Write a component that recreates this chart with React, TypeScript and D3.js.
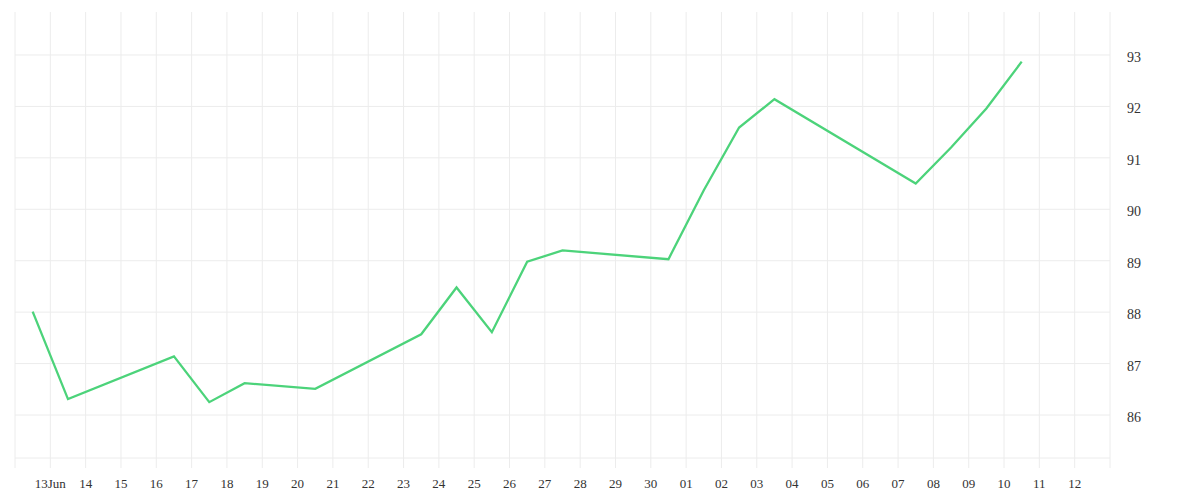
import React from 'react';
import * as d3 from 'd3';

// =============================================================================
// Data
// =============================================================================

// sample times (noon of each day) and values
const dates: string[] = [
  '2023-06-12T12:00Z', '2023-06-13T12:00Z', '2023-06-16T12:00Z', '2023-06-17T12:00Z',
  '2023-06-18T12:00Z', '2023-06-20T12:00Z', '2023-06-23T12:00Z', '2023-06-24T12:00Z',
  '2023-06-25T12:00Z', '2023-06-26T12:00Z', '2023-06-27T12:00Z', '2023-06-30T12:00Z',
  '2023-07-01T12:00Z', '2023-07-02T12:00Z', '2023-07-03T12:00Z', '2023-07-07T12:00Z',
  '2023-07-08T12:00Z', '2023-07-09T12:00Z', '2023-07-10T12:00Z',
];
const values: number[] = [
  88.01, 86.31, 87.14, 86.25, 86.62, 86.51, 87.57, 88.48, 87.61, 88.98,
  89.2, 89.03, 90.37, 91.59, 92.14, 90.5, 91.2, 91.96, 92.87,
];
const yTicks: number[] = [86, 87, 88, 89, 90, 91, 92, 93];
const xStart = '2023-06-12T00:00Z';
const xEnd = '2023-07-13T00:00Z';

// =============================================================================
// Constants
// =============================================================================

const WIDTH = 1200;
const HEIGHT = 500;
const PLOT = { left: 15, right: 1110, top: 12, bottom: 458 };
const TICK_LEN = 10;
const GRID = '#ececec';
const LINE = '#4cd37a';
const TEXT = '#333';
const FONT = '"Liberation Serif", "DejaVu Serif", serif';

export default function App() {
  const x = d3
    .scaleUtc()
    .domain([new Date(xStart), new Date(xEnd)])
    .range([PLOT.left, PLOT.right]);
  const y = d3.scaleLinear().domain([85.164, 93.836]).range([PLOT.bottom, PLOT.top]);

  const points = dates.map((d, i) => ({ t: new Date(d), v: values[i] }));
  const line = d3
    .line<{ t: Date; v: number }>()
    .x((d) => x(d.t))
    .y((d) => y(d.v));

  const days = x.ticks(d3.utcDay.every(1)!);
  const fmt = d3.utcFormat('%d');
  const first = days[1];

  return (
    <svg
      width={WIDTH}
      height={HEIGHT}
      style={{ position: 'absolute', left: 0, top: 0, display: 'block' }}
    >
      {/* horizontal grid */}
      {yTicks.map((t) => (
        <line
          key={`h${t}`}
          x1={PLOT.left}
          x2={PLOT.right}
          y1={y(t)}
          y2={y(t)}
          stroke={GRID}
          strokeWidth={1}
        />
      ))}
      <line
        x1={PLOT.left}
        x2={PLOT.right}
        y1={PLOT.bottom}
        y2={PLOT.bottom}
        stroke={GRID}
        strokeWidth={1}
      />

      {/* vertical grid + ticks */}
      {days.map((d) => (
        <line
          key={`v${d.getTime()}`}
          x1={x(d)}
          x2={x(d)}
          y1={PLOT.top}
          y2={PLOT.bottom + TICK_LEN}
          stroke={GRID}
          strokeWidth={1}
        />
      ))}

      {/* x labels */}
      {days
        .filter((d) => d > days[0] && d < days[days.length - 1])
        .map((d) => (
          <text
            key={`xl${d.getTime()}`}
            x={x(d)}
            y={488}
            textAnchor="middle"
            fill={TEXT}
            fontFamily={FONT}
            fontSize={13}
          >
            {d.getTime() === first.getTime() ? `${fmt(d)}Jun` : fmt(d)}
          </text>
        ))}

      {/* y labels */}
      {yTicks.map((t) => (
        <text
          key={`yl${t}`}
          x={1127}
          y={y(t) + 7}
          fill={TEXT}
          fontFamily={FONT}
          fontSize={14}
        >
          {t}
        </text>
      ))}

      {/* series */}
      <path
        d={line(points) ?? ''}
        fill="none"
        stroke={LINE}
        strokeWidth={2.3}
        strokeLinejoin="miter"
      />
    </svg>
  );
}
